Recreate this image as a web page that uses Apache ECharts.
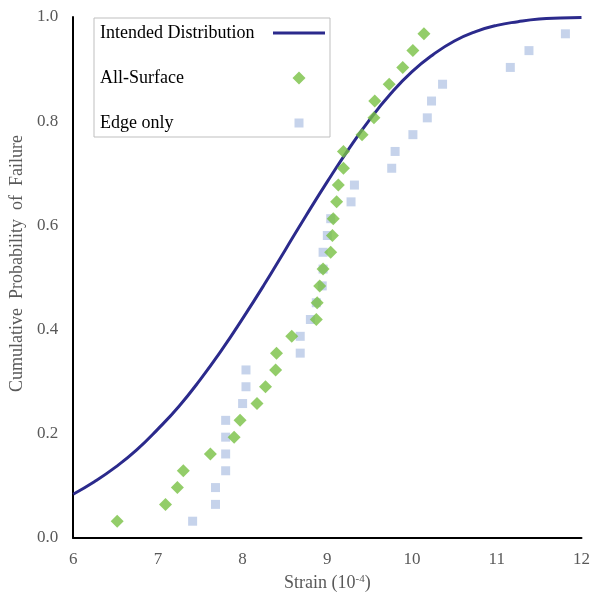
<!DOCTYPE html>
<html>
<head>
<meta charset="utf-8">
<script src="https://cdn.jsdelivr.net/npm/echarts@6/dist/echarts.min.js"></script>
<style>
  html, body { margin: 0; padding: 0; background: #fff; }
  #chart { width: 593px; height: 597px; }
</style>
</head>
<body>
<div id="chart"></div>
<script>
// Intended distribution: cumulative probability at regular strain steps
const curveStrain = [6, 6.25, 6.5, 6.75, 7, 7.25, 7.5, 7.75, 8, 8.25, 8.5, 8.75, 9,
  9.25, 9.5, 9.75, 10, 10.25, 10.5, 10.75, 11, 11.25, 11.5, 11.75, 12];
const curveProb = [0.084, 0.108, 0.136, 0.169, 0.209, 0.253, 0.304, 0.360, 0.421, 0.485,
  0.552, 0.619, 0.684, 0.746, 0.803, 0.853, 0.895, 0.928, 0.954, 0.972, 0.984, 0.991,
  0.996, 0.998, 0.999];

// Measured failure strains (10^-4), sorted; rank probability i/(n+1)
const allSurfaceStrain = [6.52, 7.09, 7.23, 7.30, 7.62, 7.90, 7.97, 8.17, 8.27, 8.39,
  8.40, 8.58, 8.87, 8.88, 8.91, 8.95, 9.04, 9.06, 9.07, 9.11, 9.13, 9.19, 9.19, 9.41,
  9.55, 9.56, 9.73, 9.89, 10.01, 10.14];
const edgeOnlyStrain = [7.41, 7.68, 7.68, 7.80, 7.80, 7.80, 7.80, 8.00, 8.04, 8.04,
  8.68, 8.68, 8.80, 8.87, 8.94, 8.95, 8.95, 9.00, 9.04, 9.28, 9.32, 9.76, 9.80, 10.01,
  10.18, 10.23, 10.36, 11.16, 11.38, 11.81];

const xTicks = [6, 7, 8, 9, 10, 11, 12];
const yTicks = [0.0, 0.2, 0.4, 0.6, 0.8, 1.0];

function rankPairs(strains) {
  const n = strains.length;
  return strains.map((s, i) => [s, (i + 1) / (n + 1)]);
}

const serif = '"Liberation Serif", "Times New Roman", serif';
const grey = '#595959';

// Legend icons sit in a 52x14 slot; a zero-area stroke pins the slot size so
// the marker keeps its own proportions, centred in the slot.
const iconLine = 'path://M0,5.5 L52,5.5 L52,8.5 L0,8.5 Z';
const iconDiamond = 'path://M0,0 L52,14 Z M26,0.5 L32.5,7 L26,13.5 L19.5,7 Z';
const iconSquare = 'path://M0,0 L52,14 Z M21.5,2.5 L30.5,2.5 L30.5,11.5 L21.5,11.5 Z';

const chart = echarts.init(document.getElementById('chart'));
chart.setOption({
  animation: false,
  backgroundColor: '#fff',
  textStyle: { fontFamily: serif },
  grid: { left: 72, right: 9, top: 17, bottom: 54, containLabel: false },
  legend: {
    left: 94,
    top: 18,
    orient: 'vertical',
    align: 'right',
    itemWidth: 52,
    itemHeight: 14,
    itemGap: 27,
    padding: [6, 5, 5, 6],
    backgroundColor: '#fff',
    borderColor: '#bfbfbf',
    borderWidth: 1,
    borderRadius: 0,
    formatter: name => '{t|' + name + '}',
    textStyle: {
      fontFamily: serif, fontSize: 18, color: '#000',
      rich: { t: { fontFamily: serif, fontSize: 18, color: '#000', width: 168, height: 14, lineHeight: 14, align: 'left' } }
    },
    data: [
      { name: 'Intended Distribution', icon: iconLine },
      { name: 'All-Surface', icon: iconDiamond },
      { name: 'Edge only', icon: iconSquare }
    ]
  },
  xAxis: {
    type: 'value',
    min: xTicks[0],
    max: xTicks[xTicks.length - 1],
    interval: 1,
    name: 'Strain (10{sup|-4})',
    nameLocation: 'middle',
    nameGap: 36,
    nameTextStyle: {
      fontFamily: serif, fontSize: 18, color: grey,
      rich: { sup: { fontFamily: serif, fontSize: 11, color: grey, verticalAlign: 'top', padding: [0, 0, 7, 0] } }
    },
    axisLine: { show: true, lineStyle: { color: '#000', width: 2 } },
    axisTick: { show: false },
    splitLine: { show: false },
    axisLabel: { fontFamily: serif, fontSize: 17, color: grey, margin: 13 }
  },
  yAxis: {
    type: 'value',
    min: yTicks[0],
    max: yTicks[yTicks.length - 1],
    interval: 0.2,
    name: 'Cumulative  Probability  of  Failure',
    nameLocation: 'middle',
    nameGap: 44,
    nameTextStyle: { fontFamily: serif, fontSize: 18, color: grey, padding: [0, 0, 0, 28] },
    axisLine: { show: true, lineStyle: { color: '#000', width: 2 } },
    axisTick: { show: false },
    splitLine: { show: false },
    axisLabel: {
      fontFamily: serif, fontSize: 17, color: grey, margin: 15,
      formatter: v => v.toFixed(1)
    }
  },
  series: [
    {
      name: 'Intended Distribution',
      type: 'line',
      smooth: true,
      symbol: 'none',
      data: curveStrain.map((x, i) => [x, curveProb[i]]),
      lineStyle: { color: '#2b2a8c', width: 3 },
      itemStyle: { color: '#2b2a8c' },
      z: 3
    },
    {
      name: 'Edge only',
      type: 'scatter',
      symbol: 'rect',
      symbolSize: 9,
      data: rankPairs(edgeOnlyStrain),
      itemStyle: { color: '#b8c8e6' },
      z: 2
    },
    {
      name: 'All-Surface',
      type: 'scatter',
      symbol: 'diamond',
      symbolSize: 13,
      data: rankPairs(allSurfaceStrain),
      itemStyle: { color: '#78c043' },
      z: 4
    }
  ]
});
</script>
</body>
</html>
